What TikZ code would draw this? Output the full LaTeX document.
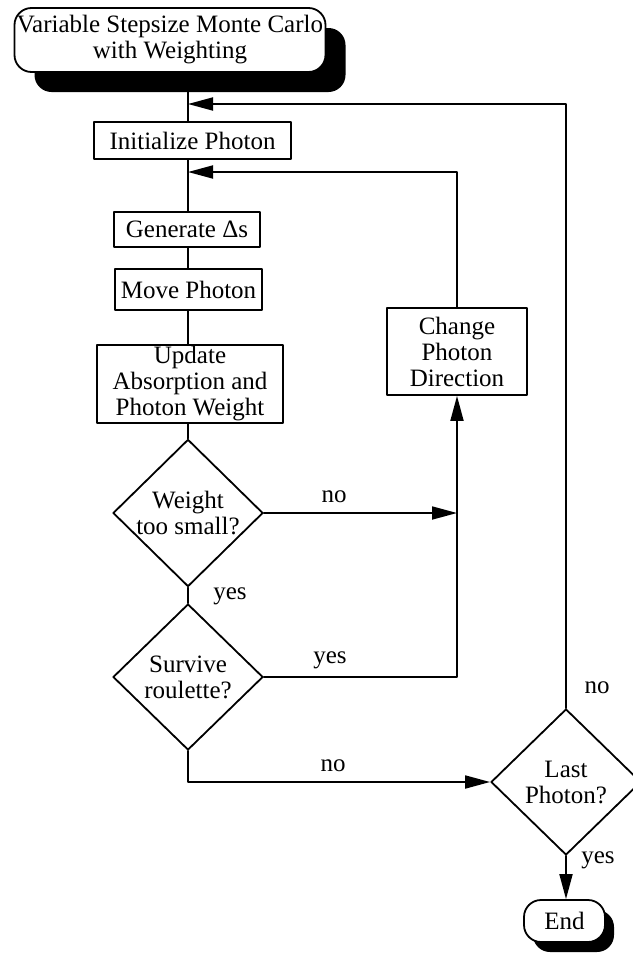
\documentclass[tikz,border=0pt]{standalone}
\usepackage{fontspec}
\setmainfont{Liberation Serif}
\usetikzlibrary{shapes.geometric, shadows, arrows.meta}
\begin{document}
\begin{tikzpicture}[x=1pt, y=-1pt, line cap=round, line join=round,
    every node/.style={font=\fontsize{25}{26}\selectfont},
    stepbox/.style={draw, line width=1.8pt, fill=white, inner sep=0pt, align=center},
    test/.style={diamond, draw, line width=1.8pt, fill=white, inner sep=0pt, align=center,
      minimum width=150pt, minimum height=146pt},
    terminal/.style={draw, line width=1.8pt, fill=white, rounded corners=17pt, inner sep=0pt,
      align=center},
    link/.style={line width=1.8pt},
    arrowlink/.style={line width=1.8pt, -{Triangle[length=25pt, width=13pt]}},
    lbl/.style={inner sep=1pt}]
  \useasboundingbox (0,0) rectangle (632,956);
  % column of the main loop
  \coordinate (spine) at (188,0);
  \coordinate (join1) at (188,104);
  \coordinate (join2) at (188,172);
  \node[terminal, minimum width=311pt, minimum height=64pt,
    drop shadow={shadow xshift=20pt, shadow yshift=-20pt, fill=black, opacity=1}]
    (title) at (170,40) {Variable Stepsize Monte Carlo\\with Weighting};
  \node[stepbox, minimum width=197pt, minimum height=37pt] (init) at (192.5,140.5) {Initialize Photon};
  \node[stepbox, minimum width=146pt, minimum height=35pt] (gen) at (187,229.5) {Generate Δs};
  \node[stepbox, minimum width=147pt, minimum height=41pt] (move) at (188.5,289.5) {Move Photon};
  \node[stepbox, minimum width=186pt, minimum height=78pt] (update) at (190,384)
    {Update\\Absorption and\\Photon Weight};
  \node[stepbox, minimum width=140pt, minimum height=87pt] (change) at (457,351.5)
    {Change\\Photon\\Direction};
  \node[test] (weight) at (188,513) {Weight\\too small?};
  \node[test] (survive) at (188,677) {Survive\\roulette?};
  \node[test] (last) at (566,782) {Last\\Photon?};
  \node[terminal, minimum width=81pt, minimum height=42pt,
    drop shadow={shadow xshift=9pt, shadow yshift=-10pt, fill=black, opacity=1}]
    (end) at (564.5,921) {End};
  % labels
  \node[lbl] (l1) at (334,497) {no};
  \node[lbl] (l2) at (230,596) {yes};
  \node[lbl] (l3) at (330,660) {yes};
  \node[lbl] (l4) at (333,766) {no};
  \node[lbl] (l5) at (597,688) {no};
  \node[lbl] (l6) at (598,860) {yes};
  % connectors
  \draw[link] (title.south -| spine) -- (init.north -| spine);
  \draw[link] (init.south -| spine) -- (gen.north -| spine);
  \draw[link] (gen.south -| spine) -- (move.north -| spine);
  \draw[link] (move.south -| spine) -- (update.north -| spine);
  \draw[link] (update.south -| spine) -- (weight.north);
  \draw[link] (weight.south) -- (survive.north);
  \draw[arrowlink] (last.north) |- (join1);
  \draw[arrowlink] (change.north) |- (join2);
  \draw[arrowlink] (weight.east) -- (weight.east -| change.south);
  \draw[arrowlink] (survive.east) -| (change.south);
  \draw[arrowlink] (survive.south) |- (last.west);
  \draw[arrowlink] (last.south) -- (last.south |- end.north);
\end{tikzpicture}
\end{document}
